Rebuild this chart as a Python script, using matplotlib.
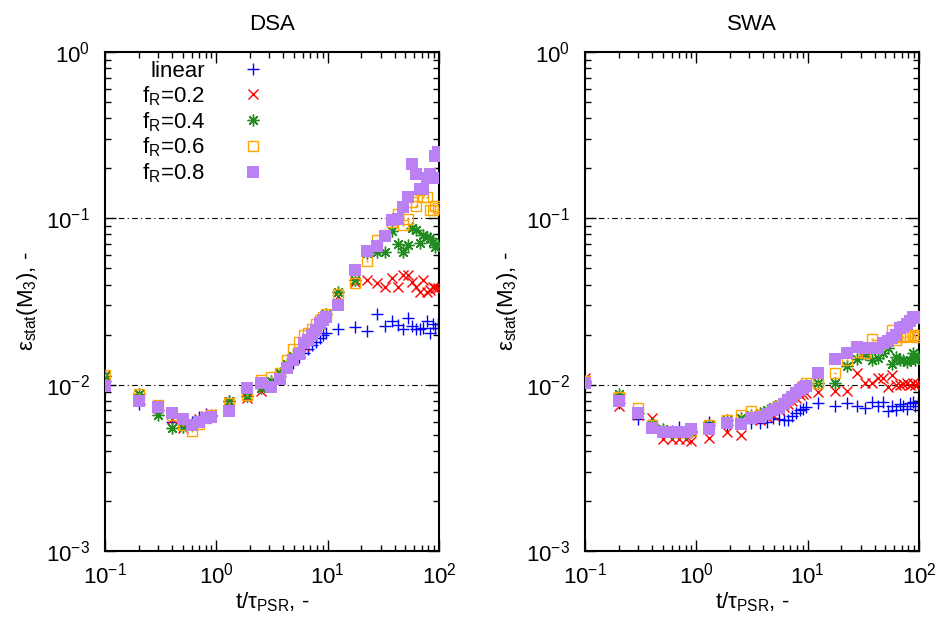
import numpy as np
import matplotlib
matplotlib.use('Agg')
import matplotlib.pyplot as plt

plt.rcParams['font.family'] = ['Liberation Sans', 'DejaVu Sans']
plt.rcParams['mathtext.default'] = 'regular'
plt.rcParams['font.size'] = 16

# ==========================================
# Data
# ==========================================
t = [0.1, 0.2, 0.3, 0.4, 0.5, 0.6, 0.7, 0.8, 0.9,
     1.3, 1.9, 2.5, 3.1, 3.7, 4.3, 4.9, 5.5, 6.1, 6.7, 7.3, 7.9, 8.5, 9.1, 9.7,
     12.5, 17.5, 22.5, 27.5, 32.5, 37.5, 42.5, 47.5, 52.5, 57.5, 62.5, 67.5,
     72.5, 77.5, 82.5, 87.5, 92.5, 97.5]

labels = ['linear', 'f$_R$=0.2', 'f$_R$=0.4', 'f$_R$=0.6', 'f$_R$=0.8']

# DSA panel
dsa_linear = [0.0105, 0.0077, 0.0070, 0.0060, 0.0058, 0.0060, 0.0064, 0.0067, 0.0065,
              0.0080, 0.0085, 0.0098, 0.0104, 0.0112, 0.0127, 0.0135, 0.0147, 0.0155, 0.0163, 0.0172, 0.0180, 0.0190, 0.0198, 0.0205,
              0.0216, 0.0222, 0.0210, 0.0266, 0.0225, 0.0240, 0.0228, 0.0217, 0.0250, 0.0225, 0.0217, 0.0217,
              0.0220, 0.0240, 0.0205, 0.0230, 0.0218, 0.0230]
dsa_f02 = [0.0115, 0.0088, 0.0072, 0.0062, 0.0055, 0.0058, 0.0062, 0.0065, 0.0067,
           0.0079, 0.0083, 0.0092, 0.0100, 0.0112, 0.0128, 0.0140, 0.0155, 0.0170, 0.0185, 0.0200, 0.0215, 0.0230, 0.0245, 0.0260,
           0.0340, 0.0414, 0.0425, 0.0408, 0.0386, 0.0437, 0.0386, 0.0456, 0.0456, 0.0414, 0.0386, 0.0360,
           0.0425, 0.0360, 0.0370, 0.0386, 0.0380, 0.0380]
dsa_f04 = [0.0112, 0.0088, 0.0066, 0.0055, 0.0056, 0.0058, 0.0061, 0.0064, 0.0066,
           0.0080, 0.0086, 0.0095, 0.0105, 0.0117, 0.0134, 0.0148, 0.0160, 0.0178, 0.0192, 0.0205, 0.0220, 0.0235, 0.0250, 0.0265,
           0.0360, 0.0425, 0.0620, 0.0630, 0.0630, 0.0840, 0.0700, 0.0630, 0.0690, 0.0870, 0.0850, 0.0710,
           0.0790, 0.0770, 0.0760, 0.0720, 0.0670, 0.0690]
dsa_f06 = [0.0114, 0.0088, 0.0075, 0.0066, 0.0057, 0.0053, 0.0058, 0.0063, 0.0066,
           0.0078, 0.0087, 0.0106, 0.0111, 0.0118, 0.0141, 0.0164, 0.0180, 0.0198, 0.0205, 0.0215, 0.0230, 0.0245, 0.0255, 0.0265,
           0.0350, 0.0410, 0.0555, 0.0740, 0.0790, 0.0950, 0.1060, 0.0910, 0.0990, 0.1250, 0.1180, 0.1480,
           0.1340, 0.1340, 0.1120, 0.1120, 0.1190, 0.1150]
dsa_f08 = [0.0098, 0.0080, 0.0073, 0.0068, 0.0062, 0.0057, 0.0060, 0.0063, 0.0064,
           0.0069, 0.0095, 0.0102, 0.0097, 0.0108, 0.0126, 0.0141, 0.0153, 0.0178, 0.0185, 0.0200, 0.0213, 0.0234, 0.0245, 0.0255,
           0.0300, 0.0490, 0.0640, 0.0680, 0.0780, 0.0980, 0.0990, 0.1170, 0.1340, 0.2120, 0.1850, 0.1500,
           0.1500, 0.1750, 0.1850, 0.1750, 0.2370, 0.2500]

# SWA panel
swa_linear = [0.0102, 0.0078, 0.0062, 0.0057, 0.0052, 0.0053, 0.0056, 0.0054, 0.0053,
              0.0060, 0.0057, 0.0060, 0.0059, 0.0059, 0.0060, 0.0063, 0.0062, 0.0061, 0.0061, 0.0065, 0.0068, 0.0070, 0.0071, 0.0073,
              0.0078, 0.0074, 0.0078, 0.0074, 0.0072, 0.0079, 0.0074, 0.0079, 0.0069, 0.0074, 0.0070, 0.0076,
              0.0074, 0.0071, 0.0078, 0.0079, 0.0074, 0.0078]
swa_f02 = [0.0110, 0.0074, 0.0066, 0.0063, 0.0047, 0.0047, 0.0047, 0.0047, 0.0046,
           0.0048, 0.0052, 0.0050, 0.0064, 0.0061, 0.0064, 0.0066, 0.0070, 0.0073, 0.0076, 0.0080, 0.0083, 0.0087, 0.0088, 0.0089,
           0.0090, 0.0091, 0.0091, 0.0118, 0.0102, 0.0102, 0.0110, 0.0110, 0.0097, 0.0114, 0.0100, 0.0100,
           0.0101, 0.0102, 0.0100, 0.0102, 0.0100, 0.0101]
swa_f04 = [0.0105, 0.0088, 0.0068, 0.0058, 0.0054, 0.0051, 0.0051, 0.0051, 0.0052,
           0.0057, 0.0061, 0.0063, 0.0066, 0.0068, 0.0070, 0.0073, 0.0076, 0.0079, 0.0083, 0.0087, 0.0090, 0.0094, 0.0097, 0.0100,
           0.0102, 0.0102, 0.0130, 0.0143, 0.0153, 0.0140, 0.0145, 0.0155, 0.0166, 0.0133, 0.0146, 0.0141,
           0.0140, 0.0136, 0.0141, 0.0155, 0.0140, 0.0148]
swa_f06 = [0.0105, 0.0084, 0.0072, 0.0057, 0.0053, 0.0052, 0.0052, 0.0052, 0.0053,
           0.0057, 0.0061, 0.0066, 0.0069, 0.0066, 0.0068, 0.0071, 0.0074, 0.0078, 0.0082, 0.0086, 0.0090, 0.0094, 0.0098, 0.0102,
           0.0102, 0.0118, 0.0141, 0.0157, 0.0155, 0.0188, 0.0172, 0.0179, 0.0182, 0.0213, 0.0186, 0.0195,
           0.0194, 0.0195, 0.0196, 0.0199, 0.0194, 0.0199]
swa_f08 = [0.0102, 0.0080, 0.0068, 0.0055, 0.0052, 0.0052, 0.0052, 0.0052, 0.0054,
           0.0054, 0.0059, 0.0058, 0.0063, 0.0064, 0.0067, 0.0070, 0.0072, 0.0076, 0.0081, 0.0084, 0.0089, 0.0093, 0.0096, 0.0098,
           0.0118, 0.0143, 0.0155, 0.0169, 0.0166, 0.0166, 0.0166, 0.0179, 0.0182, 0.0190, 0.0199, 0.0218,
           0.0222, 0.0232, 0.0241, 0.0255, 0.0255, 0.0250]

# ==========================================
# Styles (gnuplot-like)
# ==========================================
styles = [
    dict(marker='+', color='#0000ff', ms=8.5, mew=1.0, mfc='none', ls='none'),
    dict(marker='x', color='#ff0000', ms=7.5, mew=1.0, mfc='none', ls='none'),
    dict(marker=(8, 2, 0), color='#228b22', ms=8.5, mew=1.0, ls='none'),
    dict(marker='s', color='#ffa500', ms=7.5, mew=1.0, mfc='none', ls='none'),
    dict(marker='s', color='#bb80f4', ms=8, mew=0, ls='none'),
]


def draw_panel(ax, series, title, with_legend):
    ax.axhline(0.1, color='black', lw=0.8, ls=(0, (5, 3, 1, 3)), zorder=1)
    ax.axhline(0.01, color='black', lw=0.8, ls=(0, (5, 3, 1, 3)), zorder=1)
    for i, (y, st) in enumerate(zip(series, styles)):
        ax.plot(t, y, label=labels[i], zorder=2 + i, **st)
        if i == 3:
            # little dot in the middle of the open squares
            ax.plot(t, y, ls='none', marker='.', ms=1.2, color=st['color'], zorder=2 + i)
    ax.set_xscale('log')
    ax.set_yscale('log')
    ax.set_xlim(0.1, 100)
    ax.set_ylim(1e-3, 1)
    ax.set_title(title, fontsize=16, pad=16)
    ax.set_xlabel('t/τ$_{PSR}$, -', fontsize=16, labelpad=2)
    ax.set_ylabel('ε$_{stat}$(M$_3$), -', fontsize=16, labelpad=4)
    ax.tick_params(which='both', direction='in', top=True, right=True, labelsize=16)
    ax.tick_params(which='major', length=8, width=1.0)
    ax.tick_params(axis='x', which='major', pad=8)
    ax.tick_params(axis='y', which='major', pad=11)
    ax.tick_params(which='minor', length=4, width=1.0)
    for sp in ax.spines.values():
        sp.set_linewidth(1.5)
    if with_legend:
        leg = ax.legend(loc='upper right', bbox_to_anchor=((264 - 105) / 334, 0.982),
                        frameon=False, markerfirst=False, fontsize=16, handlelength=1.0,
                        handletextpad=1.65, labelspacing=0.1, borderaxespad=0.0,
                        borderpad=0.0)
        for col in leg._legend_handle_box.get_children():
            col.align = 'right'


fig = plt.figure(figsize=(9.39, 6.3), dpi=100)
ax1 = fig.add_axes([105 / 939, 79 / 630, 334 / 939, 499 / 630])
ax2 = fig.add_axes([585 / 939, 79 / 630, 334 / 939, 499 / 630])

draw_panel(ax1, [dsa_linear, dsa_f02, dsa_f04, dsa_f06, dsa_f08], 'DSA', True)
draw_panel(ax2, [swa_linear, swa_f02, swa_f04, swa_f06, swa_f08], 'SWA', False)

fig.savefig('out.png', dpi=100)
